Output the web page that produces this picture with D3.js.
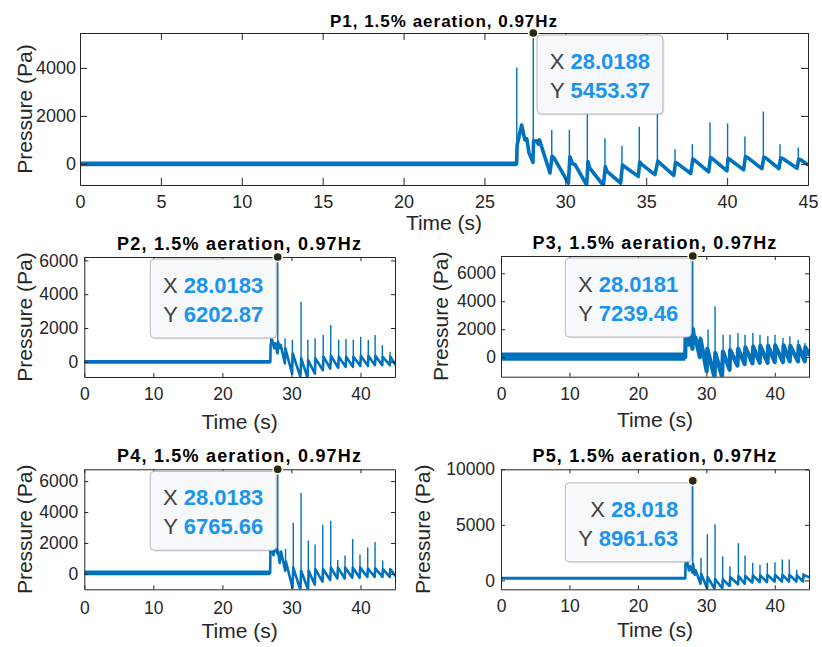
<!DOCTYPE html>
<html>
<head>
<meta charset="utf-8">
<script src="https://cdn.jsdelivr.net/npm/d3@7"></script>
<style>
  html, body { margin: 0; padding: 0; background: #ffffff; }
  svg { display: block; font-family: "Liberation Sans", Arial, Helvetica, sans-serif; }
</style>
</head>
<body>
<svg id="fig" width="822" height="647"></svg>
<script>
// ---------------- data ----------------
const timeDomain = [0, 45];
const timeTicksWide = [0, 5, 10, 15, 20, 25, 30, 35, 40, 45];
const timeTicks = [0, 10, 20, 30, 40];

const titles = [
  "P1, 1.5% aeration, 0.97Hz",
  "P2, 1.5% aeration, 0.97Hz",
  "P3, 1.5% aeration, 0.97Hz",
  "P4, 1.5% aeration, 0.97Hz",
  "P5, 1.5% aeration, 0.97Hz"
];
const xLabel = "Time (s)";
const yLabel = "Pressure (Pa)";

// P1
const p1Range = [-880, 5453.37];
const p1Ticks = [0, 2000, 4000];
const p1Band = [[0, -100, 100], [26.99, -100, 100]];
const p1Trace = [[26.99,0],[27.02,780],[27.30,1620],[27.50,1000],[27.62,1050],[27.75,470],[28.00,60],[28.04,950],[28.23,960],[28.33,820],[28.40,1000],[29.05,-380],[29.18,320],[29.30,250],[30.19,-800],[30.28,300],[30.45,0],[30.60,-30],[31.32,-880],[31.40,100],[31.50,-170],[32.35,-900],[32.47,-120],[32.58,-310],[33.42,-800],[33.53,-40],[33.65,-110],[34.51,-520],[34.60,80],[34.74,-30],[35.54,-450],[35.72,120],[35.83,40],[36.70,-480],[36.81,60],[36.92,20],[37.75,-400],[37.88,200],[37.98,160],[38.86,-330],[38.97,260],[39.07,230],[39.99,-290],[40.06,230],[40.17,180],[41.02,-250],[41.13,300],[41.23,280],[42.15,-200],[42.27,280],[42.37,260],[43.20,-200],[43.31,250],[43.44,220],[44.32,-180],[44.43,200],[44.57,160],[45,-40]];
const p1Spikes = [[27.00,4020],[29.16,1410],[30.25,1410],[31.36,2700],[32.45,1070],[33.50,750],[34.57,1550],[35.69,2500],[36.78,610],[37.85,820],[38.94,1730],[40.03,1690],[41.10,1140],[42.24,2180],[43.27,820],[44.40,680]];
const p1Tip = [28.0188, 5453.37];

// P2
const p2Range = [-900, 6202.87];
const p2Ticks = [0, 2000, 4000, 6000];
const p2Band = [[0, -110, 110], [26.95, -110, 110]];
const p2Trace = [[26.95,0],[26.98,1000],[27.2,1300],[27.5,800],[27.65,1100],[27.98,500],[28.05,1200],[28.3,800],[28.45,1000],[29.05,-100],[29.12,800],[30.1,-700],[30.18,500],[31.3,-900],[31.42,200],[32.33,-950],[32.42,100],[33.4,-700],[33.48,200],[34.55,-500],[34.65,300],[35.62,-400],[35.72,350],[36.78,-350],[36.86,300],[37.85,-300],[37.93,300],[38.9,-300],[38.98,300],[39.98,-250],[40.06,350],[41.08,-250],[41.16,350],[42.1,-200],[42.18,350],[43.15,-200],[43.22,300],[44.25,-200],[44.33,300],[45,-150]];
const p2Spikes = [[27.0,1500],[29.08,1400],[30.14,1300],[31.39,3560],[32.38,1300],[33.43,1400],[34.6,1580],[35.69,2180],[36.84,1300],[37.9,1350],[38.96,1300],[40.03,1480],[41.13,1300],[42.12,1580],[43.17,1000],[44.28,600]];
const p2Tip = [28.0183, 6202.87];

// P3
const p3Range = [-1400, 7239.46];
const p3Ticks = [0, 2000, 4000, 6000];
const p3Band = [[0, -250, 330], [26.92, -250, 330]];
const p3Trace = [[26.92,0],[26.96,1500],[27.2,2000],[27.45,900],[27.6,1400],[27.98,600],[28.05,2000],[28.25,1200],[28.4,1400],[29.05,0],[29.15,1300],[30.05,-1000],[30.15,600],[31.2,-1450],[31.3,300],[32.3,-1400],[32.42,400],[33.4,-900],[33.48,500],[34.55,-600],[34.65,600],[35.6,-500],[35.7,700],[36.75,-450],[36.85,750],[37.8,-400],[37.88,800],[38.95,-400],[39.03,800],[40.0,-350],[40.06,850],[41.2,-350],[41.28,850],[42.18,-300],[42.26,800],[43.4,-300],[43.48,800],[44.38,-300],[44.46,700],[45,200]];
const p3Spikes = [[27.0,2100],[29.08,1500],[30.25,1970],[31.27,3650],[32.45,1610],[33.46,1610],[34.62,1730],[35.65,1610],[36.8,1730],[37.84,1610],[38.98,1500],[40.03,1610],[41.2,1370],[42.2,1500],[43.42,1250],[44.4,1010]];
const p3Tip = [28.0181, 7239.46];

// P4
const p4Range = [-1000, 6765.66];
const p4Ticks = [0, 2000, 4000, 6000];
const p4Band = [[0, -90, 210], [26.92, -90, 210]];
const p4Trace = [[26.92,60],[26.96,1500],[27.15,1900],[27.4,1200],[27.6,1700],[28.0,1300],[28.05,1500],[28.3,700],[28.5,1450],[29.1,200],[29.2,800],[30.15,-900],[30.27,400],[31.3,-1050],[31.4,200],[32.4,-1000],[32.5,200],[33.38,-700],[33.46,300],[34.5,-500],[34.58,300],[35.62,-400],[35.72,400],[36.66,-300],[36.74,400],[37.72,-300],[37.8,400],[38.82,-250],[38.9,400],[39.88,-250],[39.96,400],[41.0,-200],[41.08,350],[42.06,-200],[42.14,350],[43.18,-200],[43.25,300],[44.24,-200],[44.32,300],[45,-100]];
const p4Spikes = [[26.97,2000],[29.15,1600],[30.27,3300],[31.39,5230],[32.45,2150],[33.42,1900],[34.53,3170],[35.69,3440],[36.7,900],[37.76,1180],[38.87,2260],[39.93,1250],[41.05,1700],[42.11,2060],[43.22,860],[44.28,400]];
const p4Tip = [28.0183, 6765.66];

// P5
const p5Range = [-800, 10000];
const p5Ticks = [0, 5000, 10000];
const p5Band = [[0, 60, 340], [26.92, 60, 340]];
const p5Trace = [[26.92,200],[26.96,1500],[27.2,1700],[27.45,900],[27.6,1300],[27.98,700],[28.05,1500],[28.3,500],[28.45,900],[29.15,-300],[29.25,600],[30.1,-700],[30.2,300],[31.2,-750],[31.3,100],[32.33,-700],[32.42,100],[33.4,-500],[33.5,300],[34.62,-350],[34.72,400],[35.6,-300],[35.7,400],[36.72,-200],[36.8,450],[37.8,-150],[37.88,450],[38.85,-150],[38.93,500],[39.97,-100],[40.05,500],[41.05,-100],[41.12,500],[42.08,-100],[42.15,500],[43.15,-100],[43.23,450],[44.12,-100],[44.2,500],[45,300]];
const p5Spikes = [[26.95,1700],[29.22,2040],[30.15,4150],[31.27,5060],[32.39,2180],[33.46,1270],[34.68,3340],[35.65,2250],[36.78,1580],[37.84,1400],[38.91,1580],[40.03,1640],[41.1,1880],[42.12,1880],[43.21,970],[44.17,670]];
const p5Tip = [28.018, 8961.63];

// ---------------- drawing ----------------
const LINE = "#0072BD";
const AXIS = "#262626";
const svg = d3.select("#fig");
const defs = svg.append("defs");

const panels = [
  { key: "p1", title: titles[0], range: p1Range, yTicks: p1Ticks, xTicks: timeTicksWide,
    band: p1Band, trace: p1Trace, spikes: p1Spikes, tip: p1Tip,
    box: [80, 808, 33, 185], tickLen: 7, tickFont: 18, titleFont: 17, titleLS: 1.0, titleY: 27,
    xPad: 10, yPad: 4, labelFont: 21, xLabelY: 230, yLabelX: 32, lineW: 3.6, tipSide: "right" },
  { key: "p2", title: titles[1], range: p2Range, yTicks: p2Ticks, xTicks: timeTicks,
    band: p2Band, trace: p2Trace, spikes: p2Spikes, tip: p2Tip,
    box: [84.3, 395, 257, 377], tickLen: 4, tickFont: 17.5, titleFont: 18, titleLS: 1.2, titleY: 249.5,
    xPad: 11, yPad: 6, labelFont: 21, xLabelY: 429, yLabelX: 32, lineW: 2.6, tipSide: "left" },
  { key: "p3", title: titles[2], range: p3Range, yTicks: p3Ticks, xTicks: timeTicks,
    band: p3Band, trace: p3Trace, spikes: p3Spikes, tip: p3Tip,
    box: [501, 809, 256, 376.7], tickLen: 4, tickFont: 17.5, titleFont: 18, titleLS: 1.2, titleY: 248.5,
    xPad: 11, yPad: 5, labelFont: 21, xLabelY: 427, yLabelX: 448, lineW: 4.2, tipSide: "left" },
  { key: "p4", title: titles[3], range: p4Range, yTicks: p4Ticks, xTicks: timeTicks,
    band: p4Band, trace: p4Trace, spikes: p4Spikes, tip: p4Tip,
    box: [84.3, 395, 469.3, 589.3], tickLen: 4, tickFont: 17.5, titleFont: 18, titleLS: 1.2, titleY: 461.7,
    xPad: 12, yPad: 6, labelFont: 21, xLabelY: 638, yLabelX: 32, lineW: 2.6, tipSide: "left" },
  { key: "p5", title: titles[4], range: p5Range, yTicks: p5Ticks, xTicks: timeTicks,
    band: p5Band, trace: p5Trace, spikes: p5Spikes, tip: p5Tip,
    box: [501, 809, 469.3, 589.3], tickLen: 4, tickFont: 17.5, titleFont: 18, titleLS: 1.2, titleY: 461.7,
    xPad: 10, yPad: 6, labelFont: 21, xLabelY: 637, yLabelX: 430, lineW: 2.6, tipSide: "left" }
];

function valueAt(trace, t) {
  const i = d3.bisector(d => d[0]).right(trace, t);
  if (i <= 0) return trace[0][1];
  if (i >= trace.length) return trace[trace.length - 1][1];
  const a = trace[i - 1], b = trace[i];
  return d3.interpolateNumber(a[1], b[1])((t - a[0]) / (b[0] - a[0]));
}

function styleAxis(sel, size) {
  sel.attr("font-family", null).attr("font-size", null);
  sel.select(".domain").attr("stroke", AXIS).attr("stroke-width", 1);
  sel.selectAll(".tick line").attr("stroke", AXIS).attr("stroke-width", 1);
  sel.selectAll(".tick text").attr("fill", AXIS).style("font-size", size + "px");
}

panels.forEach(p => {
  const [L, R, T, B] = p.box;
  const x = d3.scaleLinear().domain(timeDomain).range([L, R]);
  const y = d3.scaleLinear().domain(p.range).range([B, T]);
  const g = svg.append("g").attr("class", "panel " + p.key);

  defs.append("clipPath").attr("id", "clip-" + p.key)
    .append("rect").attr("x", L).attr("y", T).attr("width", R - L).attr("height", B - T);

  const plot = g.append("g").attr("clip-path", `url(#clip-${p.key})`);

  // quiet baseline before the onset
  plot.append("path").datum(p.band)
    .attr("fill", LINE)
    .attr("d", d3.area().x(d => x(d[0])).y0(d => y(d[1])).y1(d => y(d[2])));

  // oscillating pressure after onset
  plot.append("path").datum(p.trace)
    .attr("fill", "none").attr("stroke", LINE)
    .attr("stroke-width", p.lineW).attr("stroke-linejoin", "round").attr("stroke-linecap", "round")
    .attr("d", d3.line().x(d => x(d[0])).y(d => y(d[1])));

  // impact spikes, including the marked maximum
  const spikes = p.spikes.concat([p.tip]);
  plot.selectAll("line.spike").data(spikes).enter().append("line")
    .attr("class", "spike")
    .attr("x1", d => x(d[0])).attr("x2", d => x(d[0]))
    .attr("y1", d => y(valueAt(p.trace, d[0])))
    .attr("y2", d => y(d[1]))
    .attr("stroke", LINE).attr("stroke-width", 1.4);

  // axes (box with inward ticks on all sides)
  const bottom = g.append("g").attr("transform", `translate(0,${B})`)
    .call(d3.axisBottom(x).tickValues(p.xTicks).tickSizeInner(-p.tickLen).tickSizeOuter(0).tickPadding(p.xPad));
  styleAxis(bottom, p.tickFont);
  const top = g.append("g").attr("transform", `translate(0,${T})`)
    .call(d3.axisTop(x).tickValues(p.xTicks).tickSizeInner(-p.tickLen).tickSizeOuter(0).tickFormat(""));
  styleAxis(top, p.tickFont);
  const left = g.append("g").attr("transform", `translate(${L},0)`)
    .call(d3.axisLeft(y).tickValues(p.yTicks).tickSizeInner(-p.tickLen).tickSizeOuter(0).tickPadding(p.yPad).tickFormat(d3.format("d")));
  styleAxis(left, p.tickFont);
  const right = g.append("g").attr("transform", `translate(${R},0)`)
    .call(d3.axisRight(y).tickValues(p.yTicks).tickSizeInner(-p.tickLen).tickSizeOuter(0).tickFormat(""));
  styleAxis(right, p.tickFont);

  // title and axis labels
  g.append("text").attr("x", (L + R) / 2).attr("y", p.titleY)
    .attr("text-anchor", "middle").attr("font-weight", "bold")
    .style("font-size", p.titleFont + "px").style("letter-spacing", p.titleLS + "px")
    .attr("fill", "#000").text(p.title);
  g.append("text").attr("x", (L + R) / 2).attr("y", p.xLabelY)
    .attr("text-anchor", "middle").style("font-size", p.labelFont + "px")
    .attr("fill", AXIS).text(xLabel);
  g.append("text")
    .attr("transform", `translate(${p.yLabelX},${(T + B) / 2}) rotate(-90)`)
    .attr("text-anchor", "middle").style("font-size", p.labelFont + "px")
    .attr("fill", AXIS).text(yLabel);

  // data tip
  const mx = x(p.tip[0]), my = y(p.tip[1]);
  const bw = 126, bh = 79;
  const bx = p.tipSide === "right" ? mx + 3.7 : mx - 1.5 - bw;
  const by = my + 2;
  const tip = g.append("g").attr("class", "datatip");
  tip.append("rect").attr("x", bx + 1.5).attr("y", by + 1.5).attr("width", bw).attr("height", bh)
    .attr("rx", 4).attr("fill", "rgba(0,0,0,0.08)");
  tip.append("rect").attr("x", bx).attr("y", by).attr("width", bw).attr("height", bh)
    .attr("rx", 4).attr("fill", "#f7f9fc").attr("stroke", "#b4b8bf").attr("stroke-width", 1);
  const rows = [["X", p.tip[0]], ["Y", p.tip[1]]];
  rows.forEach((r, i) => {
    const t = tip.append("text").attr("x", bx + bw - 13).attr("y", by + 34 + i * 29)
      .attr("text-anchor", "end").style("font-size", "22px");
    t.append("tspan").attr("fill", "#404040").text(r[0] + " ");
    t.append("tspan").attr("fill", "#1a94ee").attr("font-weight", "bold").text(String(r[1]));
  });
  tip.append("circle").attr("cx", mx).attr("cy", my).attr("r", 4.6)
    .attr("fill", "#262626").attr("stroke", "#fffbc8").attr("stroke-width", 1.5);
});
</script>
</body>
</html>
